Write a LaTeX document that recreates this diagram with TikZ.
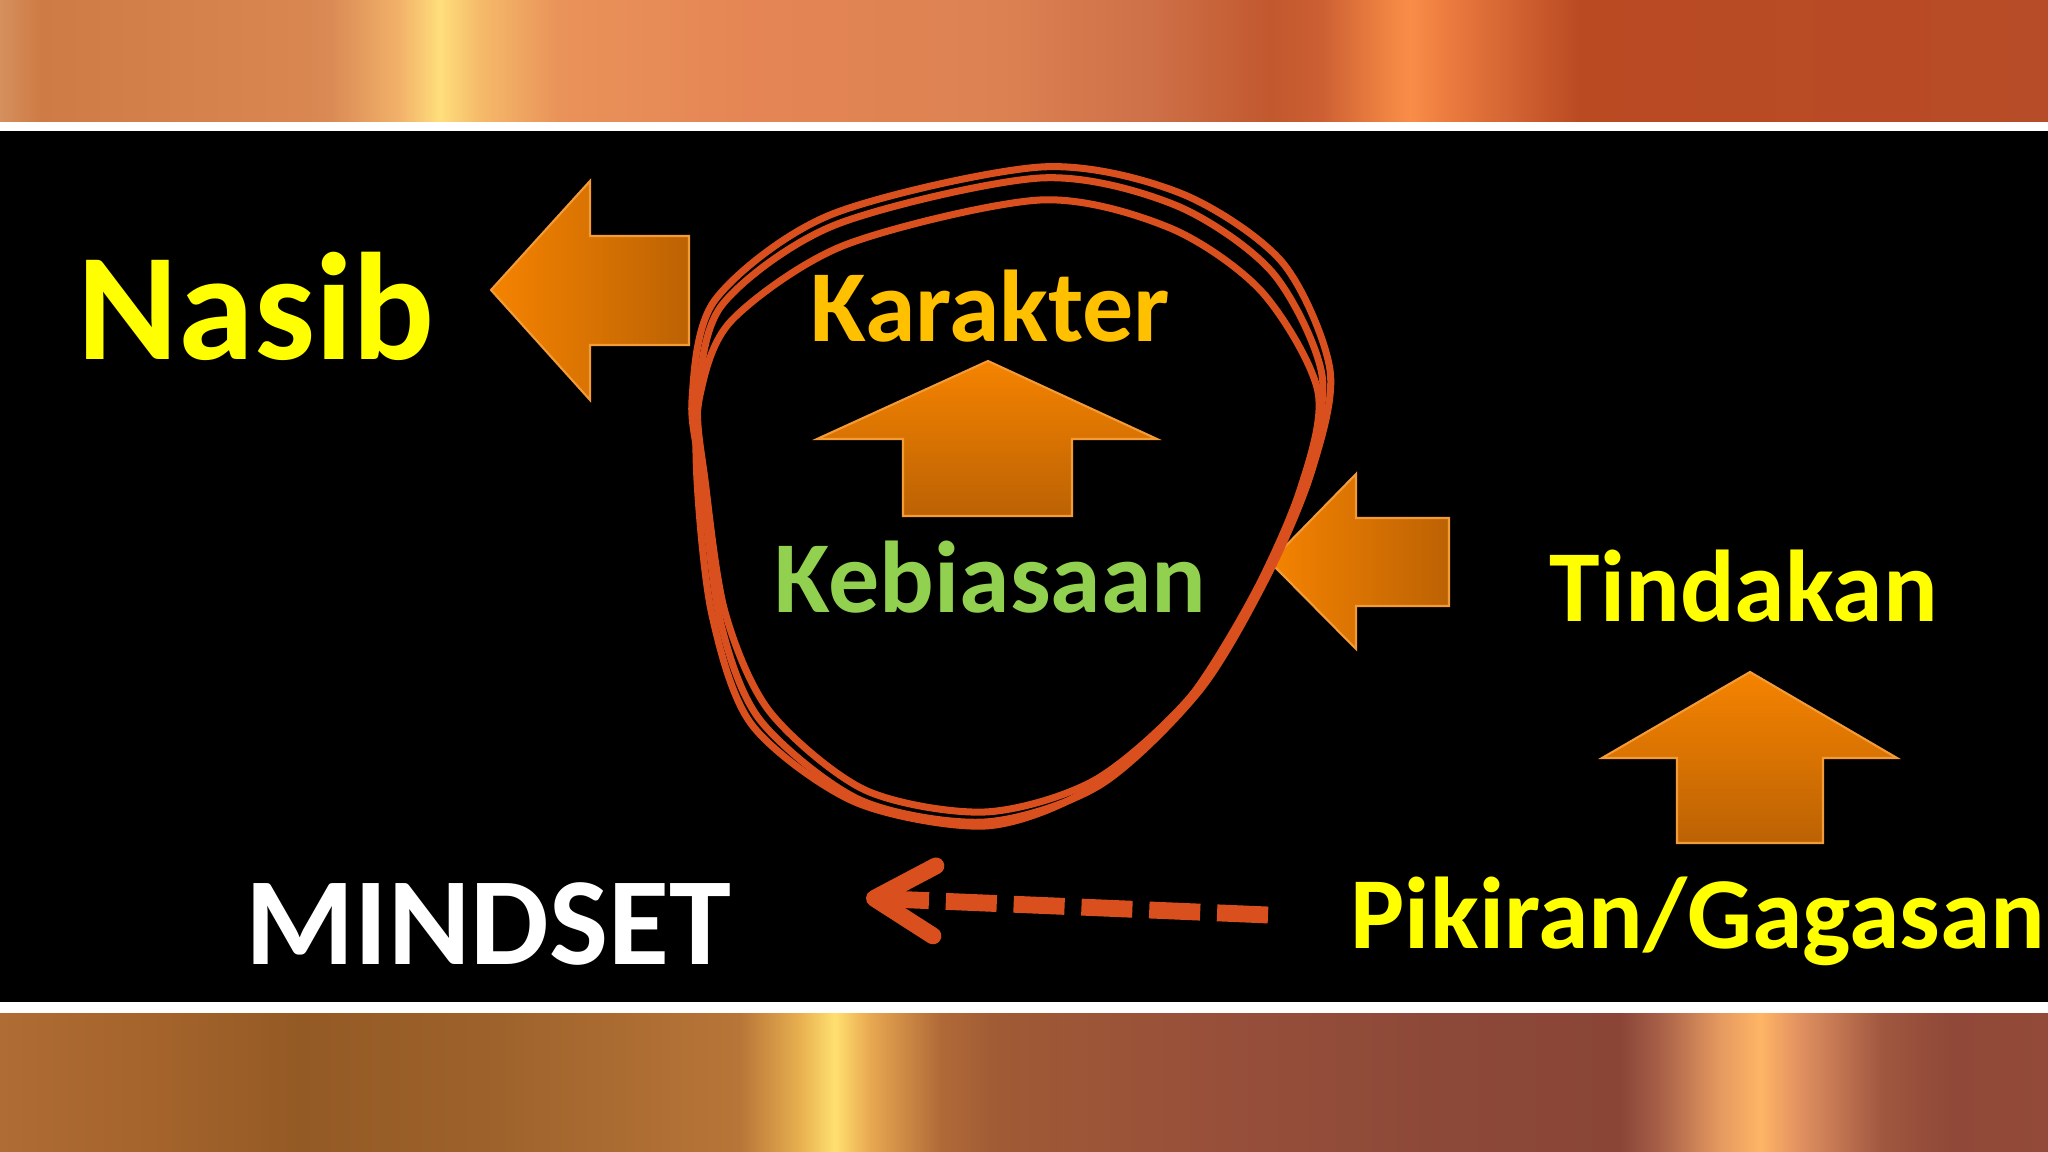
\documentclass[tikz,border=0pt]{standalone}
\usepackage{fontspec}
\setmainfont{Carlito}
\usetikzlibrary{arrows.meta}

\definecolor{loopred}{HTML}{D9501E}
\definecolor{arrowbright}{HTML}{F58300}
\definecolor{arrowdark}{HTML}{BC6204}
\definecolor{arrowedge}{HTML}{F39B36}
\definecolor{textyellow}{HTML}{FFFF00}
\definecolor{textgold}{HTML}{FFC000}
\definecolor{textgreen}{HTML}{92D050}

% copper bands, stops mapped to 25bp..75bp
\pgfdeclarehorizontalshading{topband}{100bp}{%
  color(0bp)=(rgb,255:red,212;green,144;blue,94);
  color(25bp)=(rgb,255:red,212;green,144;blue,94);
  color(25.98bp)=(rgb,255:red,207;green,123;blue,69);
  color(32.32bp)=(rgb,255:red,217;green,134;blue,80);
  color(33.06bp)=(rgb,255:red,218;green,138;blue,85);
  color(34.77bp)=(rgb,255:red,242;green,178;blue,106);
  color(35.74bp)=(rgb,255:red,255;green,222;blue,124);
  color(36.72bp)=(rgb,255:red,245;green,186;blue,106);
  color(38.67bp)=(rgb,255:red,233;green,146;blue,89);
  color(43.31bp)=(rgb,255:red,229;green,133;blue,85);
  color(49.41bp)=(rgb,255:red,220;green,130;blue,82);
  color(53.08bp)=(rgb,255:red,206;green,112;blue,72);
  color(56.01bp)=(rgb,255:red,194;green,88;blue,46);
  color(57.23bp)=(rgb,255:red,204;green,95;blue,51);
  color(58.69bp)=(rgb,255:red,236;green,128;blue,64);
  color(59.42bp)=(rgb,255:red,249;green,141;blue,72);
  color(60.40bp)=(rgb,255:red,234;green,122;blue,62);
  color(62.11bp)=(rgb,255:red,208;green,96;blue,48);
  color(63.57bp)=(rgb,255:red,186;green,74;blue,34);
  color(75bp)=(rgb,255:red,183;green,76;blue,40);
  color(100bp)=(rgb,255:red,183;green,76;blue,40)}
\pgfdeclarehorizontalshading{bottomband}{100bp}{%
  color(0bp)=(rgb,255:red,175;green,108;blue,53);
  color(25bp)=(rgb,255:red,175;green,108;blue,53);
  color(28.66bp)=(rgb,255:red,165;green,100;blue,44);
  color(32.32bp)=(rgb,255:red,148;green,90;blue,37);
  color(37.21bp)=(rgb,255:red,158;green,99;blue,44);
  color(43.07bp)=(rgb,255:red,184;green,117;blue,56);
  color(44.53bp)=(rgb,255:red,232;green,176;blue,80);
  color(45.38bp)=(rgb,255:red,255;green,224;blue,112);
  color(46.24bp)=(rgb,255:red,232;green,168;blue,80);
  color(47.95bp)=(rgb,255:red,176;green,106;blue,56);
  color(49.41bp)=(rgb,255:red,160;green,90;blue,53);
  color(54.30bp)=(rgb,255:red,152;green,80;blue,58);
  color(60.40bp)=(rgb,255:red,140;green,72;blue,56);
  color(64.55bp)=(rgb,255:red,138;green,69;blue,55);
  color(65.53bp)=(rgb,255:red,168;green,96;blue,72);
  color(66.99bp)=(rgb,255:red,229;green,154;blue,96);
  color(67.97bp)=(rgb,255:red,255;green,181;blue,101);
  color(68.95bp)=(rgb,255:red,224;green,144;blue,96);
  color(70.90bp)=(rgb,255:red,160;green,88;blue,64);
  color(72.61bp)=(rgb,255:red,144;green,72;blue,56);
  color(75bp)=(rgb,255:red,147;green,74;blue,56);
  color(100bp)=(rgb,255:red,147;green,74;blue,56)}

\begin{document}
\begin{tikzpicture}[x=0.01cm, y=-0.01cm,
    word/.style={inner sep=0, anchor=base west, font=\bfseries\fontsize{29}{34}\selectfont},
    blockarrow/.style={draw=arrowedge, line width=0.6pt},
    loopline/.style={draw=loopred, line width=2pt},
    dasharrow/.style={draw=loopred, line width=4.8pt, dash pattern=on 14.5pt off 4.8pt,
        -{Straight Barb[length=0.6cm, width=0.7cm, line cap=round, line join=round]}}
]
\useasboundingbox (0,0) rectangle (2048,1152);

% background
\fill[black] (0,0) rectangle (2048,1152);
\shade[shading=topband] (0,0) rectangle (2048,122);
\fill[white] (0,122) rectangle (2048,131);
\fill[white] (0,1002) rectangle (2048,1013);
\shade[shading=bottomband] (0,1013) rectangle (2048,1152);

% texts
\node[word, font=\bfseries\fontsize{43.5}{50}\selectfont, text=textyellow] (nasib) at (77,360) {Nasib};
\node[word, text=textgold] (karakter) at (810,342) {Karakter};
\node[word, text=textgreen] (kebiasaan) at (774,613) {Kebiasaan};
\node[word, text=textyellow] (tindakan) at (1549,621) {Tindakan};
\node[word, text=textyellow] (pikiran) at (1350,948) {Pikiran/Gagasan};
\node[word, font=\bfseries\fontsize{35.5}{42}\selectfont, text=white] (mindset) at (245,964) {MINDSET};

% block arrows
\draw[blockarrow, left color=arrowbright, right color=arrowdark]
  (491,290) -- (590,181) -- (590,236) -- (689,236) -- (689,345) -- (590,345) -- (590,400) -- cycle;
\draw[blockarrow, top color=arrowbright, bottom color=arrowdark]
  (988,361) -- (1157,439) -- (1072,439) -- (1072,516) -- (903,516) -- (903,439) -- (817,439) -- cycle;
\draw[blockarrow, left color=arrowbright, right color=arrowdark]
  (1270,562) -- (1356,474) -- (1356,518) -- (1449,518) -- (1449,606) -- (1356,606) -- (1356,649) -- cycle;
\draw[blockarrow, top color=arrowbright, bottom color=arrowdark]
  (1750,672) -- (1897,758) -- (1823,758) -- (1823,843) -- (1677,843) -- (1677,758) -- (1602,758) -- cycle;

% hand drawn loop round the middle
\draw[loopline] plot[smooth cycle] coordinates {(1041,167) (1180,193) (1282,262) (1330,370) (1312,470)
  (1268,575) (1200,690) (1100,785) (985,822) (860,800) (760,720) (720,620) (702,480) (692,400) (715,300) (830,215)};
\draw[loopline] plot[smooth cycle] coordinates {(1040,178) (1175,205) (1272,272) (1322,375) (1305,478)
  (1262,582) (1192,695) (1095,780) (985,812) (865,790) (770,712) (725,612) (705,480) (698,400) (722,305) (835,225)};
\draw[loopline] plot[smooth cycle] coordinates {(1040,200) (1170,228) (1262,292) (1318,392) (1300,490)
  (1252,598) (1182,708) (1088,790) (985,826) (855,802) (752,725) (712,615) (697,480) (700,395) (732,320) (845,245)};

% dashed arrow towards MINDSET
\coordinate (dashstart) at (1268,915);
\coordinate (dashend) at (866,898);
\draw[dasharrow] (dashstart) -- (dashend);
\end{tikzpicture}
\end{document}
